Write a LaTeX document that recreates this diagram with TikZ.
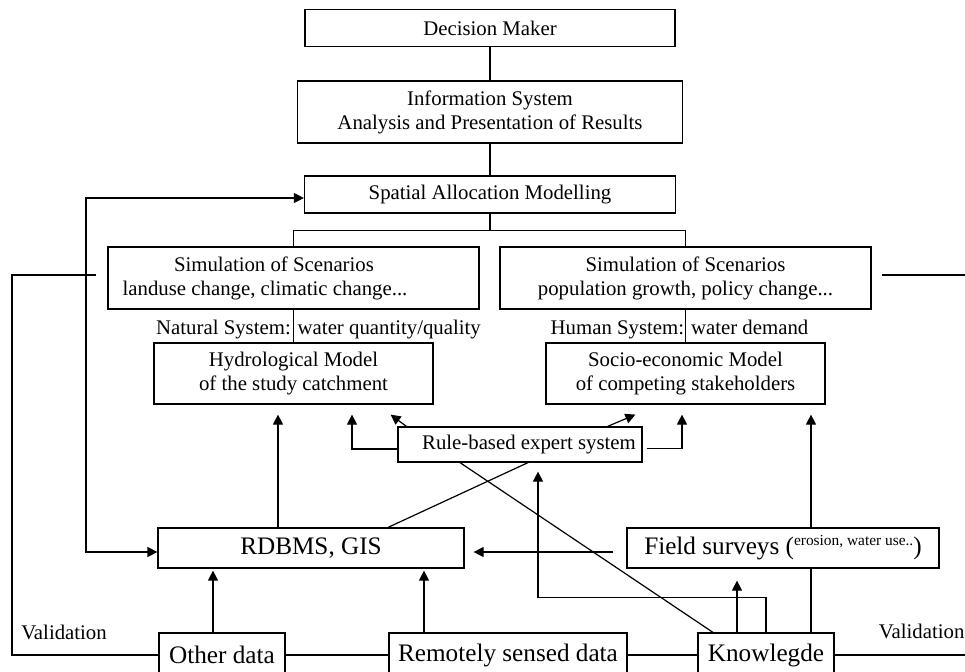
\documentclass[tikz,border=0pt]{standalone}
\usepackage{fontspec}
\setmainfont{Liberation Serif}
\usetikzlibrary{arrows.meta,positioning}

\begin{document}
\begin{tikzpicture}[x=0.5pt, y=-0.5pt, on grid, line width=0.6pt,
  >={Triangle[length=5pt,width=5pt]},
  box/.style={draw, fill=white, align=center, inner sep=1pt, font=\fontsize{10.4}{12}\selectfont},
  big/.style={box, font=\fontsize{12.6}{15}\selectfont},
  txt/.style={inner sep=0pt, font=\fontsize{10.4}{12}\selectfont},
  gap/.style={shorten >=4.5pt}]
\useasboundingbox (0,0) rectangle (965,671);
\clip (0,0) rectangle (965,671);

% chain at the top
\node[box, minimum width=185pt, minimum height=18.5pt] (dm) at (490,28) {Decision Maker};
\node[box, minimum width=192.5pt, minimum height=31pt] (info) [below=42pt of dm] {Information System\\Analysis and Presentation of Results};
\node[box, minimum width=185.5pt, minimum height=18.5pt] (sam) [below=41.25pt of info] {Spatial Allocation Modelling};

% scenarios and models
\node[box, minimum width=185.5pt, minimum height=31pt] (sim_l) at (293.5,278) {Simulation of Scenarios\hspace*{19.5pt}\\landuse change, climatic change...\hspace*{28.5pt}};
\node[box, minimum width=185.5pt, minimum height=31pt] (sim_r) [right=196pt of sim_l] {Simulation of Scenarios\\population growth, policy change...};
\node[box, minimum width=139.5pt, minimum height=30.5pt] (hyd) [below=47.75pt of sim_l] {Hydrological Model\\of the study catchment};
\node[box, minimum width=139.5pt, minimum height=30.5pt] (soc) [below=47.75pt of sim_r] {Socio-economic Model\\of competing stakeholders};
\node[txt] (nat) at (318.5,330) {Natural System: water quantity/quality};
\node[txt] (hum) at (679.5,330) {Human System: water demand};

% expert system and data
\node[box, minimum width=122pt, minimum height=17.5pt] (rule) at (520,444.5) {\hspace*{9pt}Rule-based expert system};
\node[big, minimum width=153pt, minimum height=20pt] (db) at (311,548) {RDBMS, GIS};
\node[big, minimum width=156pt, minimum height=20pt] (field) [right=236pt of db] {Field surveys (\raisebox{4.5pt}{\fontsize{7.7}{9}\selectfont erosion, water use..})};
\node[big, minimum width=63pt, minimum height=22pt] (other) at (222,655) {Other data};
\node[big, minimum width=119pt, minimum height=22pt] (rs) [right=143pt of other] {Remotely sensed data};
\node[big, minimum width=68pt, minimum height=22pt] (know) [right=129pt of rs] {Knowlegde};
\node[txt] (val_l) at (64,632) {Validation};
\node[txt, anchor=east] (val_r) at (965,631) {Validation};

\draw (dm) -- (info);
\draw (info) -- (sam);
\draw (sam.south) -- ++(0,17) coordinate (fork);
\draw (sim_l.north) |- (fork) -| (sim_r.north);
\draw (sim_l) -- (hyd);
\draw (sim_r) -- (soc);

% validation
\coordinate (v_l) at (96,275);
\coordinate (v_r) at (882,275);
\draw (other.west) -| (12,275) -- (v_l);
\draw (know.east) -| (975,275) -- (v_r);
\draw (other) -- (rs);
\draw (rs) -- (know);

% feedback
\draw[<->] ([yshift=-1.75pt]sam.west) -- ++(-218,0) |- ([yshift=-2pt]db.west);

% into the models
\draw[->, shorten >=5pt] ([xshift=-16.5pt]db.north) -- ([xshift=-16.5pt]db.north |- hyd.south);
\draw[->, shorten >=5pt] ([yshift=-2.25pt]rule.west) -| ([xshift=29.25pt]hyd.south);
\draw[->] ([xshift=4.5pt]rule.north west) -- ([xshift=-21.5pt,yshift=-5pt]hyd.south east);
\draw[->] ([xshift=-17.5pt]rule.north east) -- ([xshift=45pt,yshift=-5pt]soc.south west);
\draw[->, shorten >=5pt] ([xshift=2pt,yshift=-2pt]rule.east) -| ([xshift=-1.75pt]soc.south);
\draw ([xshift=38.5pt]db.north) -- ([xshift=4pt]rule.south);
\draw ([xshift=-30pt]rule.south) -- ([xshift=-26.5pt]know.north);
\draw[->, gap] (know.north) -- ++(0,-35) -| ([xshift=9pt]rule.south);
\draw[->, shorten >=6pt] ([xshift=-14.5pt]know.north) -- ([xshift=-14.5pt]know.north |- field.south);
\draw ([xshift=22.5pt]know.north) -- ([xshift=22.5pt]know.north |- field.south);
\draw[->, shorten >=5pt] ([xshift=22.5pt]know.north |- field.north) -- ([xshift=22.5pt]know.north |- soc.south);
\draw[->, gap] ([xshift=-6.5pt,yshift=-2pt]field.west) -- ([yshift=-2pt]db.east);
\draw[->, shorten >=1pt] ([xshift=-4.5pt]other.north) -- ([xshift=-4.5pt]other.north |- db.south);
\draw[->, shorten >=1pt] ([xshift=-42pt]rs.north) -- ([xshift=-42pt]rs.north |- db.south);
\end{tikzpicture}
\end{document}
